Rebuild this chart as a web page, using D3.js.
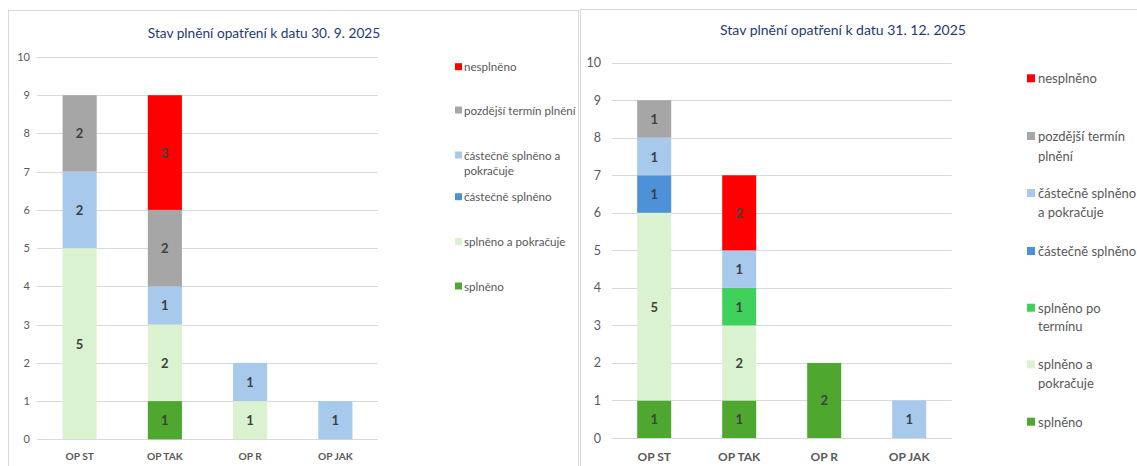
<!DOCTYPE html>
<html>
<head>
<meta charset="utf-8">
<script src="https://cdn.jsdelivr.net/npm/d3@7"></script>
<style>
  html, body { margin: 0; padding: 0; background: #fff; }
  svg { display: block; }
  text { font-family: Lato, "Open Sans", sans-serif; }
</style>
</head>
<body>
<svg id="chart" width="1137" height="466"></svg>
<script>
// ---------- DATA ----------
const categories = ["OP ST", "OP TAK", "OP R", "OP JAK"];
const yTicks = [0, 1, 2, 3, 4, 5, 6, 7, 8, 9, 10];

// Left chart: 30. 9. 2025 (stack order bottom -> top)
const leftTitle = "Stav plnění opatření k datu 30. 9. 2025";
const leftSeriesNames = ["splněno", "splněno a pokračuje", "částečně splněno",
  "částečně splněno a pokračuje", "pozdější termín plnění", "nesplněno"];
const leftSplneno              = [0, 1, 0, 0];
const leftSplnenoPokracuje     = [5, 2, 1, 0];
const leftCastecne             = [0, 0, 0, 0];
const leftCastecnePokracuje    = [2, 1, 1, 1];
const leftPozdejsi             = [2, 2, 0, 0];
const leftNesplneno            = [0, 3, 0, 0];

// Right chart: 31. 12. 2025
const rightTitle = "Stav plnění opatření k datu 31. 12. 2025";
const rightSeriesNames = ["splněno", "splněno a pokračuje", "splněno po termínu",
  "částečně splněno", "částečně splněno a pokračuje", "pozdější termín plnění", "nesplněno"];
const rightSplneno             = [1, 1, 2, 0];
const rightSplnenoPokracuje    = [5, 2, 0, 0];
const rightPoTerminu           = [0, 1, 0, 0];
const rightCastecne            = [1, 0, 0, 0];
const rightCastecnePokracuje   = [1, 1, 0, 1];
const rightPozdejsi            = [1, 0, 0, 0];
const rightNesplneno           = [0, 2, 0, 0];

// ---------- STYLE ----------
const colors = {
  "splněno": "#4EA72E",
  "splněno a pokračuje": "#DAF2D0",
  "splněno po termínu": "#3FD15B",
  "částečně splněno": "#4D91D8",
  "částečně splněno a pokračuje": "#A6C9EC",
  "pozdější termín plnění": "#A6A6A6",
  "nesplněno": "#FF0000"
};

const svg = d3.select("#chart");

function drawPanel(cfg) {
  const g = svg.append("g");
  // panel border
  g.append("rect")
    .attr("x", cfg.box[0]).attr("y", cfg.box[1])
    .attr("width", cfg.box[2]).attr("height", cfg.box[3])
    .attr("fill", "#fff").attr("stroke", "#D9D9D9").attr("stroke-width", 1);

  // title
  g.append("text")
    .attr("x", cfg.titleX).attr("y", cfg.titleY)
    .attr("text-anchor", "middle").attr("dominant-baseline", "central")
    .attr("fill", "#1F3A75").attr("font-size", cfg.titleSize)
    .text(cfg.title);

  const x = d3.scaleBand().domain(categories).range([cfg.x0, cfg.x1]).padding(0);
  const y = d3.scaleLinear().domain([0, 10]).range([cfg.yBottom, cfg.yTop]);

  // gridlines
  g.append("g").selectAll("line").data(yTicks).join("line")
    .attr("x1", cfg.x0).attr("x2", cfg.x1)
    .attr("y1", d => Math.round(y(d)) + 0.5).attr("y2", d => Math.round(y(d)) + 0.5)
    .attr("stroke", "#D9D9D9").attr("stroke-width", 1);

  // y axis labels
  const yAxis = d3.axisLeft(y).tickValues(yTicks).tickSize(0).tickPadding(0);
  const ya = g.append("g").attr("transform", `translate(${cfg.yLabelX},0)`).call(yAxis);
  ya.select(".domain").remove();
  ya.selectAll("text").attr("fill", "#595959").attr("font-size", cfg.tickSize)
    .style("font-family", "Lato, sans-serif");

  // x axis labels
  const xAxis = d3.axisBottom(x).tickSize(0).tickPadding(0);
  const xa = g.append("g").attr("transform", `translate(0,${cfg.catY})`).call(xAxis);
  xa.select(".domain").remove();
  xa.selectAll("text").attr("fill", "#595959").attr("font-size", cfg.catSize)
    .attr("font-weight", "bold").attr("dy", "0.32em")
    .style("font-family", "Lato, sans-serif");

  // stacked data
  const rows = categories.map((c, i) => {
    const r = { cat: c };
    cfg.series.forEach(s => { r[s.name] = s.values[i]; });
    return r;
  });
  const stack = d3.stack().keys(cfg.series.map(s => s.name));
  const stacked = stack(rows);
  const barW = x.bandwidth() * cfg.barFrac;

  const layers = g.append("g").selectAll("g").data(stacked).join("g")
    .attr("fill", d => colors[d.key]);
  layers.selectAll("rect").data(d => d.filter(p => p[1] - p[0] > 0)).join("rect")
    .attr("x", d => x(d.data.cat) + (x.bandwidth() - barW) / 2)
    .attr("width", barW)
    .attr("y", d => y(d[1]))
    .attr("height", d => y(d[0]) - y(d[1]));
  layers.selectAll("text").data(d => d.filter(p => p[1] - p[0] > 0)).join("text")
    .attr("x", d => x(d.data.cat) + x.bandwidth() / 2)
    .attr("y", d => (y(d[0]) + y(d[1])) / 2)
    .attr("text-anchor", "middle").attr("dominant-baseline", "central")
    .attr("fill", "#404040").attr("font-weight", "bold").attr("font-size", cfg.valSize)
    .text(d => d[1] - d[0]);

  // legend
  const lg = g.append("g");
  cfg.legend.forEach(item => {
    lg.append("rect")
      .attr("x", cfg.legSqX).attr("y", item.y[0] - cfg.legSq / 2)
      .attr("width", cfg.legSq).attr("height", cfg.legSq)
      .attr("fill", colors[item.name]);
    item.lines.forEach((ln, k) => {
      lg.append("text")
        .attr("x", cfg.legTextX).attr("y", item.y[k])
        .attr("dominant-baseline", "central")
        .attr("fill", "#595959").attr("font-size", cfg.legSize)
        .text(ln);
    });
  });
}

drawPanel({
  box: [8.5, 10.5, 570, 470],
  title: leftTitle, titleX: 264, titleY: 32, titleSize: 13.7,
  x0: 37, x1: 378, yTop: 57, yBottom: 439.3,
  yLabelX: 30, tickSize: 11, catY: 457, catSize: 10.2, valSize: 13, barFrac: 0.4,
  series: [
    { name: leftSeriesNames[0], values: leftSplneno },
    { name: leftSeriesNames[1], values: leftSplnenoPokracuje },
    { name: leftSeriesNames[2], values: leftCastecne },
    { name: leftSeriesNames[3], values: leftCastecnePokracuje },
    { name: leftSeriesNames[4], values: leftPozdejsi },
    { name: leftSeriesNames[5], values: leftNesplneno }
  ],
  legSqX: 455, legSq: 7, legTextX: 464, legSize: 11.6,
  legend: [
    { name: "nesplněno", lines: ["nesplněno"], y: [66.7] },
    { name: "pozdější termín plnění", lines: ["pozdější termín plnění"], y: [110] },
    { name: "částečně splněno a pokračuje", lines: ["částečně splněno a", "pokračuje"], y: [155, 170] },
    { name: "částečně splněno", lines: ["částečně splněno"], y: [196.7] },
    { name: "splněno a pokračuje", lines: ["splněno a pokračuje"], y: [241.7] },
    { name: "splněno", lines: ["splněno"], y: [286] }
  ]
});

drawPanel({
  box: [580.5, 9.5, 600, 470],
  title: rightTitle, titleX: 843, titleY: 29.5, titleSize: 14,
  x0: 611.7, x1: 951.7, yTop: 62.7, yBottom: 438,
  yLabelX: 601, tickSize: 12.5, catY: 457, catSize: 12, valSize: 13, barFrac: 0.4,
  series: [
    { name: rightSeriesNames[0], values: rightSplneno },
    { name: rightSeriesNames[1], values: rightSplnenoPokracuje },
    { name: rightSeriesNames[2], values: rightPoTerminu },
    { name: rightSeriesNames[3], values: rightCastecne },
    { name: rightSeriesNames[4], values: rightCastecnePokracuje },
    { name: rightSeriesNames[5], values: rightPozdejsi },
    { name: rightSeriesNames[6], values: rightNesplneno }
  ],
  legSqX: 1027, legSq: 8, legTextX: 1038, legSize: 13,
  legend: [
    { name: "nesplněno", lines: ["nesplněno"], y: [78.3] },
    { name: "pozdější termín plnění", lines: ["pozdější termín", "plnění"], y: [136, 156] },
    { name: "částečně splněno a pokračuje", lines: ["částečně splněno", "a pokračuje"], y: [193, 211.7] },
    { name: "částečně splněno", lines: ["částečně splněno"], y: [251] },
    { name: "splněno po termínu", lines: ["splněno po", "termínu"], y: [307.7, 326] },
    { name: "splněno a pokračuje", lines: ["splněno a", "pokračuje"], y: [364.3, 382.7] },
    { name: "splněno", lines: ["splněno"], y: [421.7] }
  ]
});
</script>
</body>
</html>
